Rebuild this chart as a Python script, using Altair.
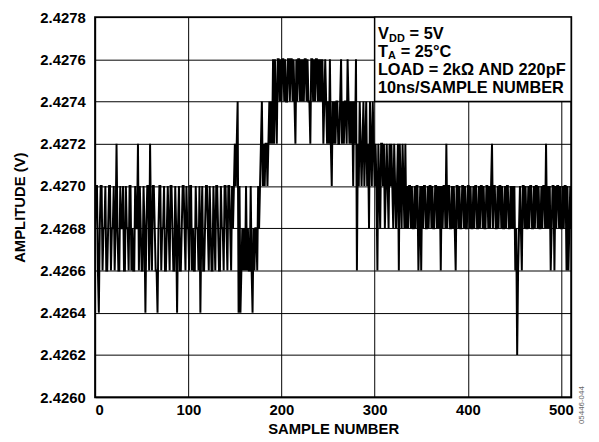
import altair as alt
import pandas as pd

# Amplitude codes: last digits of 2.42xx V (units of 0.1 mV), one value per sample
codes_000_127 = [
    68, 70, 70, 66, 64, 68, 70, 70, 66, 68, 68, 70, 66, 66, 68, 70,
    70, 66, 68, 68, 70, 66, 68, 72, 68, 66, 66, 70, 68, 68, 70, 66,
    66, 70, 68, 68, 66, 70, 70, 66, 68, 66, 66, 70, 68, 68, 72, 66,
    70, 68, 66, 66, 70, 68, 64, 68, 70, 70, 66, 72, 68, 66, 70, 70,
    68, 66, 66, 64, 68, 70, 70, 66, 68, 68, 70, 66, 66, 68, 70, 68,
    66, 70, 70, 68, 66, 66, 70, 68, 64, 68, 70, 66, 66, 68, 70, 70,
    68, 66, 70, 68, 68, 66, 70, 70, 66, 68, 66, 66, 70, 68, 68, 66,
    70, 64, 68, 70, 66, 66, 68, 70, 70, 68, 66, 70, 68, 66, 66, 70,
]
codes_128_255 = [
    68, 66, 70, 70, 68, 66, 66, 70, 68, 68, 66, 70, 70, 68, 66, 70,
    70, 68, 66, 70, 68, 70, 72, 70, 72, 74, 64, 70, 64, 66, 68, 66,
    68, 66, 70, 66, 68, 66, 66, 70, 66, 64, 68, 66, 68, 68, 66, 70,
    68, 70, 72, 74, 70, 72, 70, 72, 72, 70, 72, 74, 72, 74, 72, 76,
    72, 76, 74, 72, 76, 76, 74, 76, 74, 76, 76, 74, 76, 74, 74, 76,
    76, 74, 76, 76, 74, 76, 74, 72, 76, 74, 76, 76, 74, 76, 74, 76,
    74, 76, 76, 74, 76, 74, 74, 72, 76, 76, 74, 76, 74, 76, 76, 74,
    76, 74, 76, 74, 76, 72, 74, 76, 74, 72, 74, 72, 76, 72, 70, 74,
]
codes_256_383 = [
    72, 74, 72, 74, 74, 72, 72, 74, 76, 72, 74, 72, 74, 74, 72, 76,
    74, 72, 74, 72, 74, 70, 74, 72, 76, 66, 72, 70, 74, 72, 70, 72,
    74, 70, 72, 74, 70, 72, 68, 74, 72, 70, 74, 72, 70, 72, 70, 66,
    72, 70, 68, 72, 72, 70, 72, 68, 70, 72, 70, 68, 72, 70, 72, 70,
    68, 72, 70, 68, 70, 72, 66, 72, 70, 68, 72, 70, 68, 72, 68, 70,
    68, 70, 70, 68, 70, 68, 68, 70, 68, 70, 70, 66, 68, 70, 66, 70,
    68, 70, 70, 68, 68, 70, 68, 70, 70, 68, 70, 68, 68, 70, 70, 68,
    70, 68, 70, 66, 70, 68, 70, 70, 68, 72, 68, 70, 70, 68, 68, 70,
]
codes_384_511 = [
    68, 70, 68, 66, 70, 70, 68, 70, 68, 68, 70, 70, 68, 70, 68, 68,
    70, 70, 68, 70, 68, 68, 70, 68, 70, 70, 68, 68, 70, 68, 70, 70,
    68, 70, 68, 68, 70, 70, 68, 70, 68, 70, 72, 68, 70, 70, 68, 68,
    70, 68, 70, 70, 68, 70, 68, 68, 70, 68, 70, 70, 68, 68, 70, 68,
    70, 68, 70, 66, 68, 62, 66, 68, 70, 68, 66, 70, 70, 68, 70, 68,
    68, 70, 68, 70, 70, 68, 68, 70, 68, 70, 70, 68, 70, 68, 68, 70,
    68, 70, 70, 68, 72, 68, 70, 68, 70, 66, 68, 70, 70, 66, 70, 68,
    70, 70, 68, 70, 68, 68, 70, 68, 70, 70, 66, 70, 66, 68, 70, 68,
]

y_ticks = [2.4260, 2.4262, 2.4264, 2.4266, 2.4268, 2.4270, 2.4272, 2.4274, 2.4276, 2.4278]
x_ticks = [0, 100, 200, 300, 400, 500]

codes = codes_000_127 + codes_128_255 + codes_256_383 + codes_384_511
df = pd.DataFrame({
    "sample": list(range(len(codes))),
    "amp": [round(2.42 + c / 10000, 4) for c in codes],
})

FONT = "Liberation Sans"

xs = alt.Scale(domain=[0, 511], nice=False, zero=False)
ys = alt.Scale(domain=[2.4260, 2.4278], nice=False, zero=False)

x_axis = alt.Axis(values=x_ticks, title="SAMPLE NUMBER", grid=True, ticks=False,
                  labelPadding=5, titlePadding=5, format="d")
y_axis = alt.Axis(values=y_ticks, title="AMPLITUDE (V)", grid=True, ticks=False,
                  labelPadding=10, titlePadding=12, format=".4f")

line = alt.Chart(df).mark_line(color="black", strokeWidth=2, clip=True).encode(
    x=alt.X("sample:Q", scale=xs, axis=x_axis),
    y=alt.Y("amp:Q", scale=ys, axis=y_axis),
)

box_df = pd.DataFrame({"x": [300], "x2": [511], "y": [2.4274], "y2": [2.4278]})
box = alt.Chart(box_df).mark_rect(fill="white", stroke="black", strokeWidth=1.5).encode(
    x="x:Q", x2="x2:Q", y="y:Q", y2="y2:Q"
)

x0 = 303.5
main_df = pd.DataFrame({
    "x": [x0, x0 + 34.0, x0, x0 + 24.5, x0, x0],
    "y": [2.427718, 2.427718, 2.427634, 2.427634, 2.42755, 2.427464],
    "t": ["V", "= 5V", "T", "= 25°C", "LOAD = 2kΩ AND 220pF", "10ns/SAMPLE NUMBER"],
})
sub_df = pd.DataFrame({
    "x": [x0 + 12.0, x0 + 10.8],
    "y": [2.427698, 2.427614],
    "t": ["DD", "A"],
})
main_text = alt.Chart(main_df).mark_text(
    align="left", baseline="middle", font=FONT, fontWeight="bold", fontSize=16.5, color="black"
).encode(x="x:Q", y="y:Q", text="t:N")
sub_text = alt.Chart(sub_df).mark_text(
    align="left", baseline="middle", font=FONT, fontWeight="bold", fontSize=11, color="black"
).encode(x="x:Q", y="y:Q", text="t:N")

code_df = pd.DataFrame({"t": ["05446-044"]})
code_text = alt.Chart(code_df).mark_text(
    angle=270, align="center", baseline="middle", font=FONT, fontSize=8, color="#666666"
).encode(x=alt.value(492), y=alt.value(392), text="t:N")

chart = alt.layer(line, box, main_text, sub_text, code_text).properties(
    width=481,
    height=384,
    padding={"left": 88, "top": 7, "right": 20, "bottom": 40},
    autosize=alt.AutoSizeParams(type="none"),
).configure_view(
    stroke="black", strokeWidth=2
).configure_axis(
    domain=False,
    gridColor="black",
    gridOpacity=1,
    gridWidth=1,
    labelFont=FONT,
    labelFontWeight="bold",
    labelFontSize=15,
    labelColor="black",
    titleFont=FONT,
    titleFontWeight="bold",
    titleFontSize=15,
    titleColor="black",
)

chart.save("out.html", embed_options={"renderer": "svg", "actions": False})
